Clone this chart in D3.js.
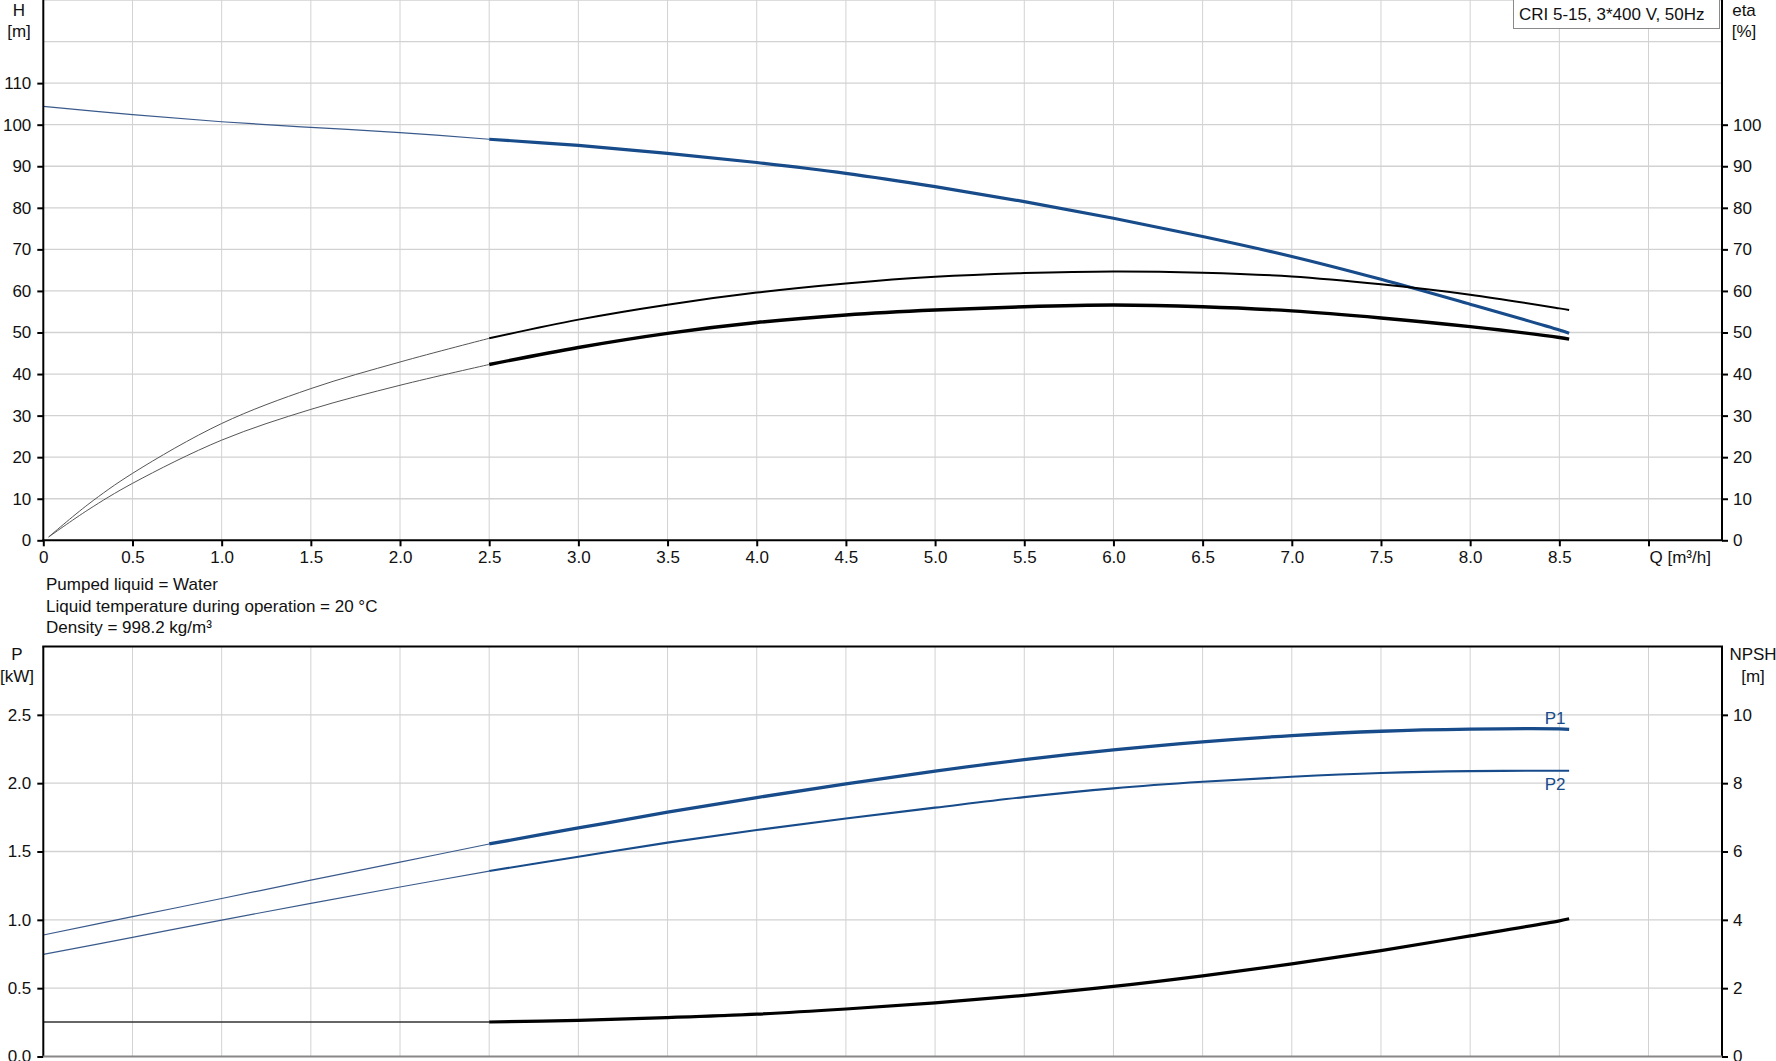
<!DOCTYPE html>
<html>
<head>
<meta charset="utf-8">
<script src="https://cdn.jsdelivr.net/npm/d3@7"></script>
<style>
  html, body { margin: 0; padding: 0; background: #fff; }
  svg { display: block; font-family: "Liberation Sans", Arial, sans-serif; }
</style>
</head>
<body>
<svg id="chart" width="1776" height="1061"></svg>
<script>
// ---------------- DATA ----------------
const qTicks = [0,0.5,1,1.5,2,2.5,3,3.5,4,4.5,5,5.5,6,6.5,7,7.5,8,8.5,9];
const hTicks = [0,10,20,30,40,50,60,70,80,90,100,110];
const etaTicks = [0,10,20,30,40,50,60,70,80,90,100];
const pTicks = [0,0.5,1.0,1.5,2.0,2.5];
const npshTicks = [0,2,4,6,8,10];

const Q = [0,0.5,1.0,1.5,2.0,2.5,3.0,3.5,4.0,4.5,5.0,5.5,6.0,6.5,7.0,7.5,8.0,8.5,8.555];
const H = [104.4,102.4,100.7,99.35,98.1,96.5,95.0,93.1,90.9,88.3,85.1,81.5,77.5,73.1,68.3,62.8,56.8,50.6,49.8];
const P1 = [0.889,1.023,1.156,1.290,1.422,1.555,1.672,1.788,1.895,1.995,2.088,2.172,2.243,2.302,2.348,2.380,2.395,2.397,2.394];
const P2 = [0.747,0.872,0.998,1.121,1.240,1.357,1.462,1.565,1.657,1.742,1.821,1.898,1.962,2.010,2.047,2.074,2.088,2.091,2.091];
const NPSH = [1.01,1.01,1.01,1.01,1.01,1.01,1.06,1.14,1.24,1.39,1.57,1.79,2.05,2.36,2.71,3.10,3.53,3.97,4.03];

const etaQ = [0.03,0.25,0.5,1.0,1.5,2.0,2.5,3.0,3.5,4.0,4.5,5.0,5.5,6.0,6.5,7.0,7.5,8.0,8.5,8.555];
const etaTotal = [0.8,8.6,16.1,28.1,36.5,42.9,48.6,53.1,56.7,59.6,61.8,63.4,64.3,64.7,64.4,63.5,61.6,59.1,55.8,55.4];
const etaPump  = [0.8,7.3,13.7,24.1,31.5,37.3,42.3,46.4,49.8,52.4,54.2,55.4,56.2,56.6,56.2,55.2,53.5,51.4,48.8,48.4];

const title = "CRI 5-15, 3*400 V, 50Hz";
const infoLines = ["Pumped liquid = Water", "Liquid temperature during operation = 20 °C", "Density = 998.2 kg/m³"];
const dutyStart = 2.5;

// ---------------- LAYOUT ----------------
const svg = d3.select("#chart");
const X0 = 43.3, X1 = 1722;
const x = d3.scaleLinear().domain([0, 9.412]).range([X0, X1]);
const U_TOP = 0, U_BOT = 540.3;
const L_TOP = 646.5, L_BOT = 1056.5;
const yH = d3.scaleLinear().domain([0,130]).range([U_BOT, U_TOP]);
const yEta = d3.scaleLinear().domain([0,130]).range([U_BOT, U_TOP]);
const yP = d3.scaleLinear().domain([0,3]).range([L_BOT, L_TOP]);
const yN = d3.scaleLinear().domain([0,12]).range([L_BOT, L_TOP]);

const BLUE = "#174b8a";
const GRID = "#d2d2d2";
const FONT = 17;

// grids
function grid(top, bot, yScale, vals) {
  const g = svg.append("g");
  g.selectAll("line.v").data(qTicks.filter(d => d > 0)).join("line")
    .attr("x1", d => x(d)).attr("x2", d => x(d))
    .attr("y1", top).attr("y2", bot)
    .attr("stroke", GRID).attr("stroke-width", 1);
  g.selectAll("line.h").data(vals).join("line")
    .attr("x1", X0).attr("x2", X1)
    .attr("y1", d => yScale(d)).attr("y2", d => yScale(d))
    .attr("stroke", GRID).attr("stroke-width", 1.3);
}
grid(U_TOP, U_BOT, yH, [10,20,30,40,50,60,70,80,90,100,110,120,130]);
grid(L_TOP, L_BOT, yP, [0.5,1.0,1.5,2.0,2.5]);

// ---------------- CURVES ----------------
function pts(qs, vs) { return qs.map((q,i) => [q, vs[i]]); }
function drawSeries(qs, vs, yScale, thinColor, thinW, thickColor, thickW) {
  const data = pts(qs, vs);
  const line = d3.line().x(d => x(d[0])).y(d => yScale(d[1])).curve(d3.curveCatmullRom.alpha(0.5));
  svg.append("path").datum(data.filter(d => d[0] <= dutyStart))
    .attr("d", line).attr("fill", "none").attr("stroke", thinColor).attr("stroke-width", thinW);
  svg.append("path").datum(data.filter(d => d[0] >= dutyStart))
    .attr("d", line).attr("fill", "none").attr("stroke", thickColor).attr("stroke-width", thickW)
    .attr("stroke-linecap", "butt");
}
drawSeries(Q, H, yH, "#3a5a8c", 1.2, BLUE, 3.2);
drawSeries(etaQ, etaTotal, yEta, "#555", 1, "#000", 2);
drawSeries(etaQ, etaPump, yEta, "#555", 1, "#000", 3.4);
drawSeries(Q, P1, yP, "#3a5a8c", 1.2, BLUE, 3.3);
drawSeries(Q, P2, yP, "#3a5a8c", 1.2, BLUE, 2.1);
drawSeries(Q, NPSH, yN, "#333", 1.5, "#000", 3.2);

// curve labels
svg.append("text").attr("x", x(8.555) - 14).attr("y", yP(P1[P1.length-1]) - 5)
  .attr("text-anchor", "middle").attr("font-size", FONT).attr("fill", BLUE).text("P1");
svg.append("text").attr("x", x(8.555) - 14).attr("y", yP(P2[P2.length-1]) + 19)
  .attr("text-anchor", "middle").attr("font-size", FONT).attr("fill", BLUE).text("P2");

// ---------------- AXES ----------------
function styleAxis(g) {
  g.select(".domain").remove();
  g.selectAll(".tick line").attr("stroke", "#000").attr("stroke-width", 2);
  g.selectAll(".tick text").attr("font-size", FONT).attr("fill", "#111")
    .attr("font-family", "Liberation Sans, Arial, sans-serif");
}
// upper
svg.append("g").attr("transform", `translate(${X0},0)`)
  .call(d3.axisLeft(yH).tickValues(hTicks).tickSize(6).tickPadding(6).tickFormat(d3.format("d")))
  .call(styleAxis);
svg.append("g").attr("transform", `translate(${X1},0)`)
  .call(d3.axisRight(yEta).tickValues(etaTicks).tickSize(6).tickPadding(5).tickFormat(d3.format("d")))
  .call(styleAxis);
svg.append("g").attr("transform", `translate(0,${U_BOT})`)
  .call(d3.axisBottom(x).tickValues(qTicks).tickSize(6).tickPadding(5)
    .tickFormat(d => d === 0 ? "0" : (d === 9 ? "" : d3.format(".1f")(d))))
  .call(styleAxis);
// lower
svg.append("g").attr("transform", `translate(${X0},0)`)
  .call(d3.axisLeft(yP).tickValues(pTicks).tickSize(6).tickPadding(6).tickFormat(d3.format(".1f")))
  .call(styleAxis);
svg.append("g").attr("transform", `translate(${X1},0)`)
  .call(d3.axisRight(yN).tickValues(npshTicks).tickSize(6).tickPadding(5).tickFormat(d3.format("d")))
  .call(styleAxis);

// axis lines / frames
const frame = [
  [X0, U_TOP, X0, U_BOT, "#000", 2],
  [X1, U_TOP, X1, U_BOT, "#000", 2],
  [X0 - 1, U_BOT, X1 + 1, U_BOT, "#000", 2],
  [X0 - 1, L_TOP, X1 + 1, L_TOP, "#000", 2],
  [X0, L_TOP, X0, L_BOT, "#000", 2],
  [X1, L_TOP, X1, L_BOT, "#000", 2],
  [X0, L_BOT, X1, L_BOT, "#888", 2]
];
svg.selectAll("line.frame").data(frame).join("line")
  .attr("x1", d => d[0]).attr("y1", d => d[1]).attr("x2", d => d[2]).attr("y2", d => d[3])
  .attr("stroke", d => d[4]).attr("stroke-width", d => d[5]);

// axis titles
function label(xp, yp, txt, anchor) {
  svg.append("text").attr("x", xp).attr("y", yp).attr("text-anchor", anchor || "middle")
    .attr("font-size", FONT).attr("fill", "#111").text(txt);
}
label(19, 16, "H"); label(19, 37, "[m]");
label(1744, 16, "eta"); label(1744, 37, "[%]");
label(17, 660, "P"); label(17, 682, "[kW]");
label(1753, 660, "NPSH"); label(1753, 682, "[m]");
label(x(9) + 1, U_BOT + 23, "Q [m³/h]", "start");

// info text
infoLines.forEach((t, i) => label(46, 590 + i * 21.5, t, "start"));

// title box
svg.append("rect").attr("x", 1513.5).attr("y", -1).attr("width", 206).attr("height", 29.5)
  .attr("fill", "#fff").attr("stroke", "#8a8a8a").attr("stroke-width", 1);
label(1519, 19.5, title, "start");
</script>
</body>
</html>
